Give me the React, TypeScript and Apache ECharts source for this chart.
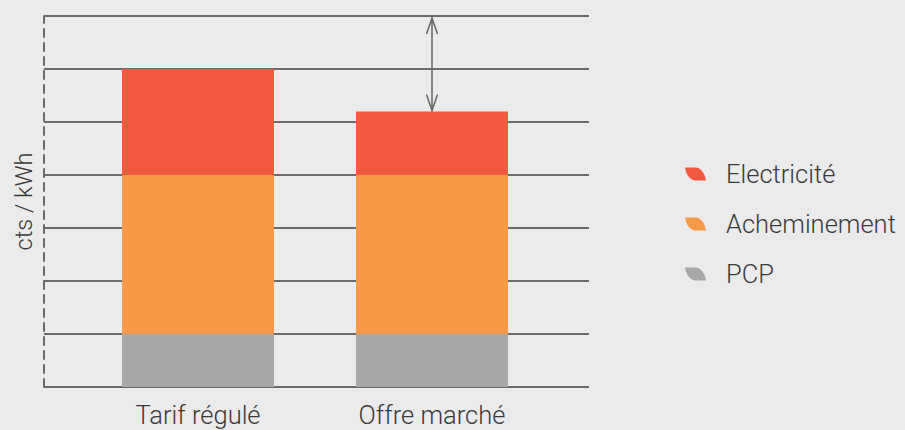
import React, { useEffect, useRef } from "react";
import * as echarts from "echarts";

const categories = ["Tarif régulé", "Offre marché"];
const pcp = [1, 1];
const acheminement = [3, 3];
const electricite = [2, 1.2];
const seriesNames = ["Electricité", "Acheminement", "PCP"];
const yMax = 7;
// arrow: category, from value, to value
const arrowData = [["Offre marché", 7, 5.2]];

const LEAF = "path://M0,0 L11,0 C17,1 20,7 21,13 L10,13 C4,12 1,6 0,0 Z";
const FONT = "Roboto";
const TEXT = "#3a3a3a";
const LINE = "#6b6b6b";

export default function App() {
  const ref = useRef<HTMLDivElement>(null);
  useEffect(() => {
    const chart = echarts.init(ref.current!, null, { renderer: "svg" });
    chart.setOption({
      animation: false,
      backgroundColor: "#ebebeb",
      textStyle: { fontFamily: FONT },
      grid: [
        { left: 44, right: 316, top: 16, bottom: 43 },
        { left: 81, right: 356, top: 16, bottom: 43 },
      ],
      xAxis: [
        { type: "value", gridIndex: 0, show: false, min: 0, max: 1 },
        {
          type: "category",
          gridIndex: 1,
          data: categories,
          axisLine: { show: false },
          axisTick: { show: false },
          axisLabel: {
            color: TEXT,
            fontSize: 25.5,
            fontWeight: 300,
            fontFamily: FONT,
            margin: 15,
          },
        },
      ],
      yAxis: [
        {
          type: "value",
          gridIndex: 0,
          min: 0,
          max: yMax,
          interval: 1,
          name: "cts / kWh",
          nameLocation: "middle",
          nameGap: 8,
          nameTextStyle: { color: TEXT, fontSize: 23.5, fontWeight: 300, fontFamily: FONT },
          axisLine: { show: true, lineStyle: { color: LINE, width: 2, type: [8, 6] } },
          axisTick: { show: false },
          axisLabel: { show: false },
          splitLine: { show: true, lineStyle: { color: LINE, width: 2 } },
        },
        {
          type: "value",
          gridIndex: 1,
          min: 0,
          max: yMax,
          interval: 1,
          show: false,
          splitLine: { show: false },
        },
      ],
      legend: {
        orient: "vertical",
        left: 680,
        top: 156,
        itemWidth: 21,
        itemHeight: 13,
        itemGap: 24,
        icon: LEAF,
        data: seriesNames,
        textStyle: {
          color: TEXT,
          fontSize: 25.5,
          fontWeight: 300,
          fontFamily: FONT,
          padding: [0, 0, 0, 15],
        },
      },
      series: [
        {
          name: "PCP",
          type: "bar",
          stack: "t",
          xAxisIndex: 1,
          yAxisIndex: 1,
          barWidth: 152,
          itemStyle: { color: "#a7a8aa" },
          data: pcp,
        },
        {
          name: "Acheminement",
          type: "bar",
          stack: "t",
          xAxisIndex: 1,
          yAxisIndex: 1,
          barWidth: 152,
          itemStyle: { color: "#f79a48" },
          data: acheminement,
        },
        {
          name: "Electricité",
          type: "bar",
          stack: "t",
          xAxisIndex: 1,
          yAxisIndex: 1,
          barWidth: 152,
          itemStyle: { color: "#f15a3f" },
          data: electricite,
        },
        {
          type: "custom",
          xAxisIndex: 1,
          yAxisIndex: 1,
          silent: true,
          z: 5,
          encode: { x: 0, y: [1, 2] },
          data: arrowData,
          renderItem: (params: any, api: any) => {
            const cat = api.value(0);
            const p1 = api.coord([cat, api.value(1)]);
            const p2 = api.coord([cat, api.value(2)]);
            const x = p1[0];
            const y1 = p1[1] + 2;
            const y2 = p2[1] - 1;
            const hw = 5.5;
            const hl = 16;
            const style = { stroke: "#666666", lineWidth: 1.5, fill: "none" };
            return {
              type: "group",
              children: [
                { type: "line", shape: { x1: x, y1, x2: x, y2 }, style },
                {
                  type: "polyline",
                  shape: { points: [[x - hw, y1 + hl], [x, y1], [x + hw, y1 + hl]] },
                  style,
                },
                {
                  type: "polyline",
                  shape: { points: [[x - hw, y2 - hl], [x, y2], [x + hw, y2 - hl]] },
                  style,
                },
              ],
            };
          },
        },
      ],
    });
    return () => chart.dispose();
  }, []);
  return (
    <div
      ref={ref}
      style={{ position: "fixed", left: 0, top: 0, width: 905, height: 430 }}
    />
  );
}
